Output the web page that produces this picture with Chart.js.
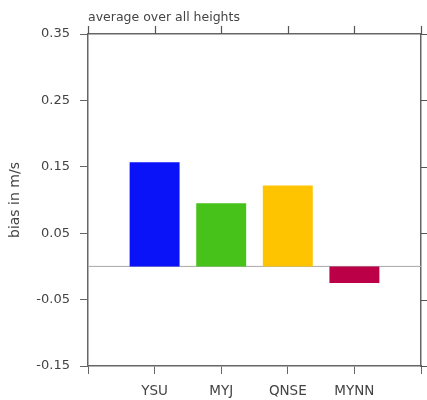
<!DOCTYPE html>
<html>
<head>
<meta charset="utf-8">
<script src="https://cdn.jsdelivr.net/npm/chart.js@4/dist/chart.umd.min.js"></script>
<style>
  html, body { margin: 0; padding: 0; background: #fff; }
  #wrap { width: 427px; height: 400px; position: relative; }
</style>
</head>
<body>
<div id="wrap"><canvas id="c" width="427" height="400"></canvas></div>
<script>
// ---- data ----
const categories = ['YSU', 'MYJ', 'QNSE', 'MYNN'];
const biasValues = [0.157, 0.095, 0.122, -0.025];
const barColors = ['#0a12f8', '#46c21b', '#ffc400', '#bb0047'];
const yTickValues = [-0.15, -0.05, 0.05, 0.15, 0.25, 0.35];
const yMin = -0.15;
const yMax = 0.35;
const titleText = 'average over all heights';
const yTitleText = 'bias in m/s';

// ---- derived ----
const xMax = categories.length + 1;
const xTickValues = Array.from({length: xMax + 1}, (_, i) => i);
const points = categories.map((c, i) => ({x: i + 1, y: biasValues[i]}));

Chart.defaults.font.family = '"DejaVu Sans", sans-serif';
Chart.defaults.color = '#444';

function frame() { return {display: true, color: '#666', width: 1.5}; }
function tickGrid(len) {
  return {display: true, drawOnChartArea: false, drawTicks: true, tickLength: len, color: '#666', tickColor: '#666', lineWidth: 1, tickWidth: 1, offset: false};
}

const zeroLine = {
  id: 'zeroLine',
  beforeDatasetsDraw(chart) {
    const {ctx, chartArea, scales} = chart;
    const y = scales.y.getPixelForValue(0);
    ctx.save();
    ctx.strokeStyle = '#a8a8a8';
    ctx.lineWidth = 1;
    ctx.beginPath();
    ctx.moveTo(chartArea.left, y);
    ctx.lineTo(chartArea.right, y);
    ctx.stroke();
    ctx.restore();
  }
};

// mirrored tick marks on the top and right edges of the frame
const mirrorTicks = {
  id: 'mirrorTicks',
  afterDraw(chart) {
    const {ctx, chartArea, scales} = chart;
    ctx.save();
    ctx.strokeStyle = '#555';
    ctx.lineWidth = 1.2;
    ctx.beginPath();
    xTickValues.forEach(v => {
      const x = Math.round(scales.x.getPixelForValue(v)) + 0.5;
      ctx.moveTo(x, chartArea.top - 8);
      ctx.lineTo(x, chartArea.top);
    });
    yTickValues.forEach(v => {
      const y = Math.round(scales.y.getPixelForValue(v)) + 0.5;
      ctx.moveTo(chartArea.right, y);
      ctx.lineTo(chartArea.right + 8, y);
    });
    ctx.stroke();
    ctx.restore();
  }
};

function fixHeight(s) { s.height = 34; s.paddingLeft = 0; s.paddingRight = 0; }

new Chart(document.getElementById('c'), {
  type: 'bar',
  data: {
    datasets: [{
      data: points,
      backgroundColor: barColors,
      borderColor: barColors,
      borderWidth: 0,
      barPercentage: 0.75,
      categoryPercentage: 1.0,
      xAxisID: 'x',
      yAxisID: 'y'
    }]
  },
  plugins: [zeroLine, mirrorTicks],
  options: {
    responsive: false,
    animation: false,
    layout: {padding: 0},
    plugins: {legend: {display: false}, tooltip: {enabled: false}, title: {display: false}},
    scales: {
      x: {
        type: 'linear', position: 'bottom', min: 0, max: xMax, offset: false, display: true,
        afterBuildTicks: s => { s.ticks = xTickValues.map(v => ({value: v})); },
        ticks: {
          autoSkip: false, maxRotation: 0, padding: 9,
          font: {size: 13.5},
          callback: v => categories[v - 1] || ''
        },
        grid: tickGrid(8),
        border: frame(),
        afterFit: fixHeight
      },
      x2: {
        type: 'linear', position: 'top', min: 0, max: xMax, offset: false, display: true,
        ticks: {display: false, padding: 0},
        grid: {display: false},
        border: frame(),
        title: {display: true, text: titleText, align: 'start', font: {size: 12.5}, color: '#444', padding: {top: 10, bottom: 0}},
        afterFit: fixHeight
      },
      y: {
        type: 'linear', position: 'left', min: yMin, max: yMax, display: true,
        afterBuildTicks: s => { s.ticks = yTickValues.map(v => ({value: v})); },
        ticks: {padding: 10, font: {size: 13}, callback: v => v.toFixed(2)},
        grid: tickGrid(8),
        border: frame(),
        title: {display: true, text: yTitleText, font: {size: 14}, color: '#444', padding: {top: 7, bottom: 0}},
        afterFit: s => { s.width = 88; s.paddingTop = 0; s.paddingBottom = 0; }
      },
      y2: {
        type: 'linear', position: 'right', min: yMin, max: yMax, display: true,
        ticks: {display: false, padding: 0},
        grid: {display: false},
        border: frame(),
        afterFit: s => { s.width = 6; s.paddingTop = 0; s.paddingBottom = 0; }
      }
    }
  }
});
</script>
</body>
</html>
